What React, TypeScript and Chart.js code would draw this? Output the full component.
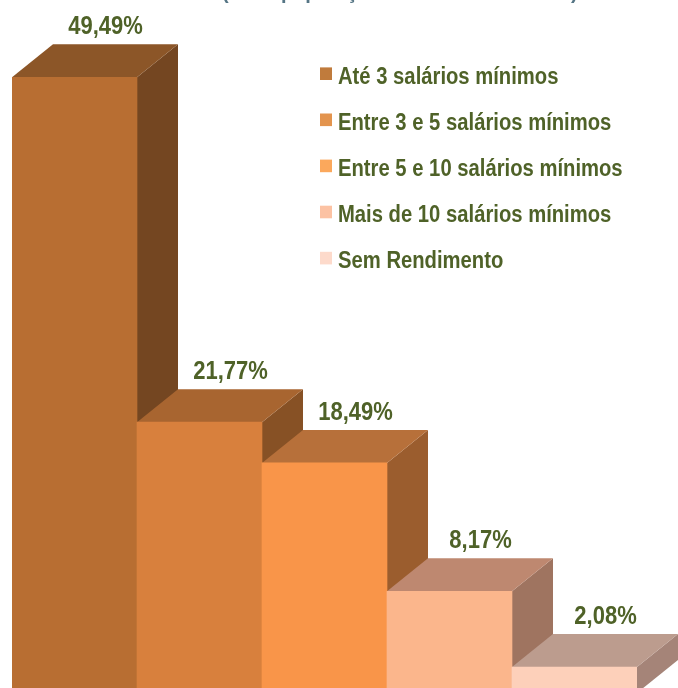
import React, { useEffect, useRef } from "react";
import { Chart, registerables } from "chart.js";

Chart.register(...registerables);

const categories = [
  "Até 3 salários mínimos",
  "Entre 3 e 5 salários mínimos",
  "Entre 5 e 10 salários mínimos",
  "Mais de 10 salários mínimos",
  "Sem Rendimento",
];
const values = [49.49, 21.77, 18.49, 8.17, 2.08];
const valueLabels = ["49,49%", "21,77%", "18,49%", "8,17%", "2,08%"];
const titleText = "(% da população de 10 anos ou mais)";

const frontColors = ["#B86E32", "#D8803D", "#F99549", "#FBB68C", "#FDD0BA"];
const topColors = ["#8C5628", "#A86530", "#B7703A", "#BE8870", "#BC9C8E"];
const sideColors = ["#744621", "#875125", "#9B5D2E", "#9F7460", "#A58478"];
const legendColors = ["#C07B3C", "#E3944E", "#FBA85C", "#FCC2A3", "#FDDACB"];

const TEXT_GREEN = "#4F6228";
const DX = 41;
const DY = 33;
const NARROW = 0.88;

const threeD = {
  id: "threeD",
  beforeDatasetsDraw(chart: any) {
    const ctx = chart.ctx;
    const meta = chart.getDatasetMeta(0);
    meta.data.forEach((el: any, i: number) => {
      const { x, y, base, width } = el.getProps(["x", "y", "base", "width"], true);
      const left = x - width / 2;
      const right = x + width / 2;
      ctx.save();
      ctx.fillStyle = sideColors[i];
      ctx.beginPath();
      ctx.moveTo(right, y);
      ctx.lineTo(right + DX, y - DY);
      ctx.lineTo(right + DX, base - DY);
      ctx.lineTo(right, base);
      ctx.closePath();
      ctx.fill();
      ctx.fillStyle = topColors[i];
      ctx.beginPath();
      ctx.moveTo(left, y);
      ctx.lineTo(right, y);
      ctx.lineTo(right + DX, y - DY);
      ctx.lineTo(left + DX, y - DY);
      ctx.closePath();
      ctx.fill();
      ctx.restore();
    });
  },
  afterDatasetsDraw(chart: any) {
    const ctx = chart.ctx;
    const meta = chart.getDatasetMeta(0);
    meta.data.forEach((el: any, i: number) => {
      const { x, y } = el.getProps(["x", "y"], true);
      ctx.save();
      ctx.translate(x + 31, y - 43);
      ctx.scale(NARROW, 1);
      ctx.font = "bold 25px 'Liberation Sans', Arial, sans-serif";
      ctx.fillStyle = TEXT_GREEN;
      ctx.textAlign = "center";
      ctx.textBaseline = "alphabetic";
      ctx.fillText(valueLabels[i], 0, 0);
      ctx.restore();
    });
  },
  afterDraw(chart: any) {
    const ctx = chart.ctx;
    ctx.save();
    // title (mostly cut off at the top)
    ctx.font = "bold 20px 'Liberation Sans', Arial, sans-serif";
    ctx.fillStyle = "#557585";
    ctx.textAlign = "left";
    ctx.textBaseline = "alphabetic";
    ctx.fillText(titleText, 222, -1);
    // legend
    categories.forEach((c, i) => {
      const cy = 73.7 + i * 46.1;
      ctx.fillStyle = legendColors[i];
      ctx.fillRect(320, cy - 6.3, 12, 12.6);
      ctx.save();
      ctx.translate(338, cy + 10);
      ctx.scale(NARROW, 1);
      ctx.fillStyle = TEXT_GREEN;
      ctx.font = "bold 23px 'Liberation Sans', Arial, sans-serif";
      ctx.textAlign = "left";
      ctx.fillText(c, 0, 0);
      ctx.restore();
    });
    ctx.restore();
  },
};

export default function App() {
  const ref = useRef<HTMLCanvasElement | null>(null);
  useEffect(() => {
    if (!ref.current) return;
    const chart = new Chart(ref.current, {
      type: "bar",
      data: {
        labels: categories,
        datasets: [
          {
            data: values,
            backgroundColor: frontColors,
            borderWidth: 0,
            barPercentage: 1,
            categoryPercentage: 1,
          },
        ],
      },
      options: {
        responsive: false,
        animation: false,
        devicePixelRatio: 1,
        layout: { padding: { left: 12, right: 41, top: 0, bottom: 7 } },
        scales: {
          x: { display: false },
          y: { display: false, min: 0, max: 55.7 },
        },
        plugins: {
          legend: { display: false },
          title: { display: false },
          tooltip: { enabled: false },
        },
      },
      plugins: [threeD],
    });
    return () => chart.destroy();
  }, []);
  return (
    <div
      style={{
        position: "absolute",
        left: 0,
        top: 0,
        width: 678,
        height: 688,
        overflow: "hidden",
        background: "#ffffff",
      }}
    >
      <canvas ref={ref} width={678} height={700} style={{ display: "block" }} />
    </div>
  );
}
